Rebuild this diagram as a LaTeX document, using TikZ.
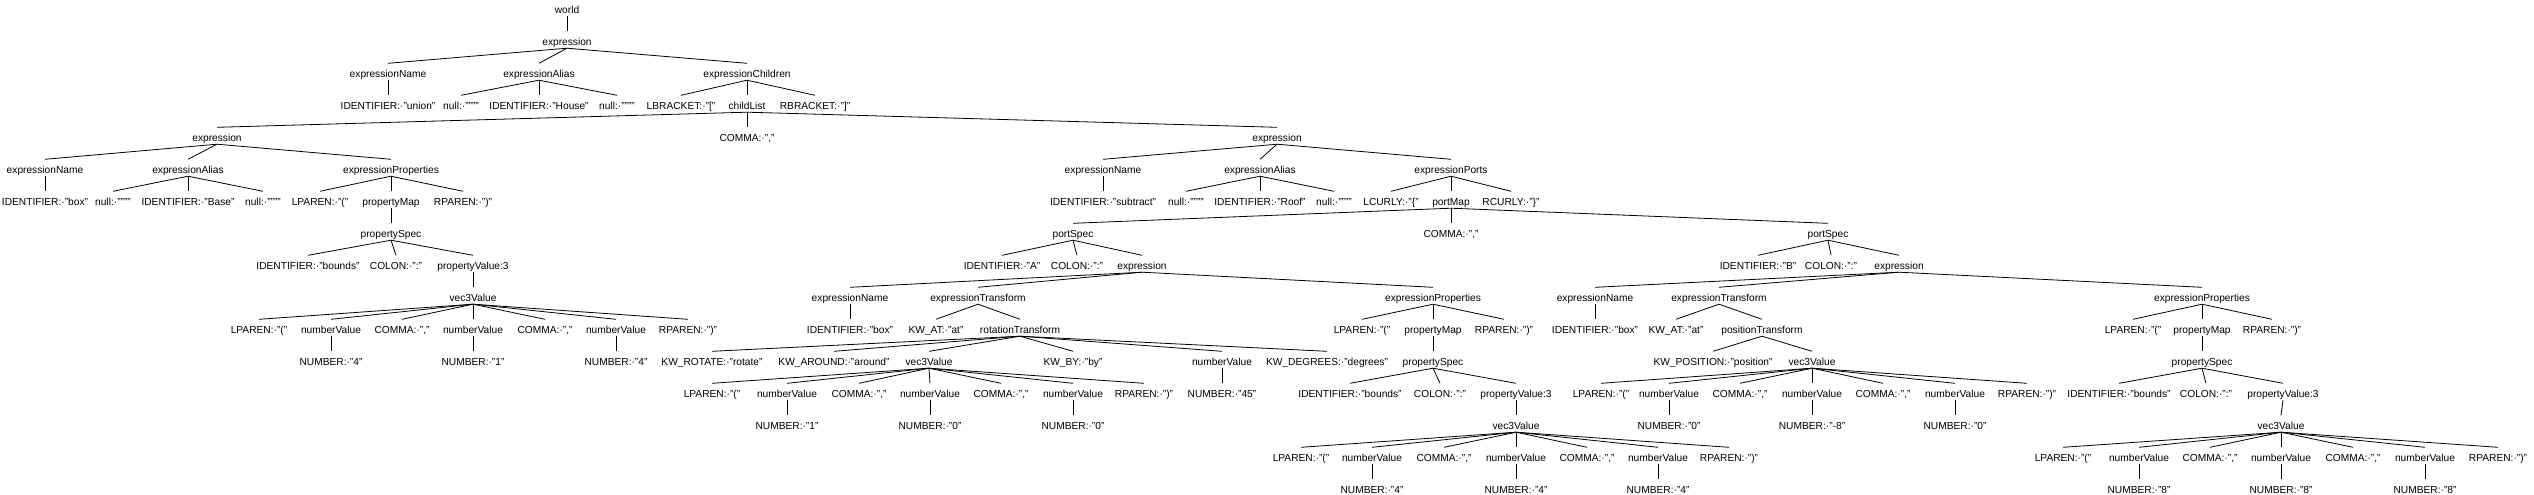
\documentclass[tikz,border=0pt]{standalone}
\usepackage{fontspec}
\setmainfont{Liberation Sans}
\tikzset{
  tn/.style={anchor=base, inner xsep=1pt, inner ysep=0pt, text height=14pt, text depth=2.5pt, font=\fontsize{10.2}{12}\selectfont},
  ed/.style={line width=0.8pt, black}
}
\newcommand\tnode[4]{\node[tn] (#1) at (#2,{13.5+32*#3}) {#4};}
\begin{document}
\begin{tikzpicture}[x=1pt,y=-1pt]
\fill[white] (0,0) rectangle (2534,495);
\useasboundingbox (0,0) rectangle (2534,495);
% top
\tnode{w}{567}{0}{world}
\tnode{e1}{567}{1}{expression}
\tnode{e1n}{388}{2}{expressionName}
\tnode{e1a}{539}{2}{expressionAlias}
\tnode{e1c}{747}{2}{expressionChildren}
\tnode{e1nid}{388}{3}{IDENTIFIER:·"union"}
\tnode{e1an1}{461}{3}{null:·""""}
\tnode{e1aid}{539}{3}{IDENTIFIER:·"House"}
\tnode{e1an2}{617}{3}{null:·""""}
\tnode{lb}{681}{3}{LBRACKET:·"["}
\tnode{cl}{747}{3}{childList}
\tnode{rb}{815}{3}{RBRACKET:·"]"}
\tnode{e2}{217}{4}{expression}
\tnode{cm}{747}{4}{COMMA:·","}
\tnode{e3}{1277}{4}{expression}
% left expression
\tnode{an}{45}{5}{expressionName}
\tnode{aa}{188}{5}{expressionAlias}
\tnode{ap}{391}{5}{expressionProperties}
\tnode{anid}{45}{6}{IDENTIFIER:·"box"}
\tnode{an1}{113}{6}{null:·""""}
\tnode{aaid}{188}{6}{IDENTIFIER:·"Base"}
\tnode{an2}{263}{6}{null:·""""}
\tnode{alp}{320}{6}{LPAREN:·"("}
\tnode{apm}{391}{6}{propertyMap}
\tnode{arp}{463}{6}{RPAREN:·")"}
\tnode{aps}{391}{7}{propertySpec}
\tnode{aid}{308}{8}{IDENTIFIER:·"bounds"}
\tnode{acol}{396}{8}{COLON:·":"}
\tnode{apv}{473}{8}{propertyValue:3}
\tnode{av}{473}{9}{vec3Value}
\tnode{av1}{259}{10}{LPAREN:·"("}
\tnode{av2}{331}{10}{numberValue}
\tnode{av3}{402}{10}{COMMA:·","}
\tnode{av4}{473}{10}{numberValue}
\tnode{av5}{545}{10}{COMMA:·","}
\tnode{av6}{616}{10}{numberValue}
\tnode{av7}{688}{10}{RPAREN:·")"}
\tnode{avn1}{331}{11}{NUMBER:·"4"}
\tnode{avn2}{473}{11}{NUMBER:·"1"}
\tnode{avn3}{616}{11}{NUMBER:·"4"}
% right expression
\tnode{bn}{1103}{5}{expressionName}
\tnode{ba}{1260}{5}{expressionAlias}
\tnode{bp}{1451}{5}{expressionPorts}
\tnode{bnid}{1103}{6}{IDENTIFIER:·"subtract"}
\tnode{bn1}{1186}{6}{null:·""""}
\tnode{baid}{1260}{6}{IDENTIFIER:·"Roof"}
\tnode{bn2}{1334}{6}{null:·""""}
\tnode{blc}{1391}{6}{LCURLY:·"\{"}
\tnode{bpm}{1451}{6}{portMap}
\tnode{brc}{1511}{6}{RCURLY:·"\}"}
\tnode{psA}{1073}{7}{portSpec}
\tnode{bcm}{1451}{7}{COMMA:·","}
\tnode{psB}{1828}{7}{portSpec}
% port A
\tnode{Aid}{1002}{8}{IDENTIFIER:·"A"}
\tnode{Acol}{1077}{8}{COLON:·":"}
\tnode{Ae}{1142}{8}{expression}
\tnode{An}{850}{9}{expressionName}
\tnode{At}{978}{9}{expressionTransform}
\tnode{Ap}{1433}{9}{expressionProperties}
\tnode{Anid}{850}{10}{IDENTIFIER:·"box"}
\tnode{Aat}{936}{10}{KW\_AT:·"at"}
\tnode{Art}{1020}{10}{rotationTransform}
\tnode{Alp}{1362}{10}{LPAREN:·"("}
\tnode{Apm}{1433}{10}{propertyMap}
\tnode{Arp}{1504}{10}{RPAREN:·")"}
\tnode{Akr}{712}{11}{KW\_ROTATE:·"rotate"}
\tnode{Aka}{834}{11}{KW\_AROUND:·"around"}
\tnode{Av}{929}{11}{vec3Value}
\tnode{Aby}{1073}{11}{KW\_BY:·"by"}
\tnode{Anv}{1222}{11}{numberValue}
\tnode{Adeg}{1327}{11}{KW\_DEGREES:·"degrees"}
\tnode{Aps}{1433}{11}{propertySpec}
\tnode{Av1}{712}{12}{LPAREN:·"("}
\tnode{Av2}{787}{12}{numberValue}
\tnode{Av3}{859}{12}{COMMA:·","}
\tnode{Av4}{930}{12}{numberValue}
\tnode{Av5}{1001}{12}{COMMA:·","}
\tnode{Av6}{1073}{12}{numberValue}
\tnode{Av7}{1144}{12}{RPAREN:·")"}
\tnode{Anum}{1222}{12}{NUMBER:·"45"}
\tnode{Aid2}{1350}{12}{IDENTIFIER:·"bounds"}
\tnode{Acol2}{1440}{12}{COLON:·":"}
\tnode{Apv}{1516}{12}{propertyValue:3}
\tnode{Avn1}{787}{13}{NUMBER:·"1"}
\tnode{Avn2}{930}{13}{NUMBER:·"0"}
\tnode{Avn3}{1073}{13}{NUMBER:·"0"}
\tnode{Apvv}{1516}{13}{vec3Value}
\tnode{Aw1}{1301}{14}{LPAREN:·"("}
\tnode{Aw2}{1372}{14}{numberValue}
\tnode{Aw3}{1444}{14}{COMMA:·","}
\tnode{Aw4}{1516}{14}{numberValue}
\tnode{Aw5}{1587}{14}{COMMA:·","}
\tnode{Aw6}{1658}{14}{numberValue}
\tnode{Aw7}{1729}{14}{RPAREN:·")"}
\tnode{Awn1}{1372}{15}{NUMBER:·"4"}
\tnode{Awn2}{1516}{15}{NUMBER:·"4"}
\tnode{Awn3}{1658}{15}{NUMBER:·"4"}
% port B
\tnode{Bid}{1758}{8}{IDENTIFIER:·"B"}
\tnode{Bcol}{1831}{8}{COLON:·":"}
\tnode{Be}{1899}{8}{expression}
\tnode{Bn}{1595}{9}{expressionName}
\tnode{Bt}{1719}{9}{expressionTransform}
\tnode{Bp}{2202}{9}{expressionProperties}
\tnode{Bnid}{1595}{10}{IDENTIFIER:·"box"}
\tnode{Bat}{1676}{10}{KW\_AT:·"at"}
\tnode{Bpt}{1762}{10}{positionTransform}
\tnode{Blp}{2133}{10}{LPAREN:·"("}
\tnode{Bpm}{2202}{10}{propertyMap}
\tnode{Brp}{2272}{10}{RPAREN:·")"}
\tnode{Bkp}{1713}{11}{KW\_POSITION:·"position"}
\tnode{Bv}{1812}{11}{vec3Value}
\tnode{Bps}{2202}{11}{propertySpec}
\tnode{Bv1}{1601}{12}{LPAREN:·"("}
\tnode{Bv2}{1669}{12}{numberValue}
\tnode{Bv3}{1740}{12}{COMMA:·","}
\tnode{Bv4}{1812}{12}{numberValue}
\tnode{Bv5}{1883}{12}{COMMA:·","}
\tnode{Bv6}{1955}{12}{numberValue}
\tnode{Bv7}{2027}{12}{RPAREN:·")"}
\tnode{Bid2}{2119}{12}{IDENTIFIER:·"bounds"}
\tnode{Bcol2}{2206}{12}{COLON:·":"}
\tnode{Bpv}{2283}{12}{propertyValue:3}
\tnode{Bvn1}{1669}{13}{NUMBER:·"0"}
\tnode{Bvn2}{1812}{13}{NUMBER:·"-8"}
\tnode{Bvn3}{1955}{13}{NUMBER:·"0"}
\tnode{Bpvv}{2281}{13}{vec3Value}
\tnode{Bw1}{2063}{14}{LPAREN:·"("}
\tnode{Bw2}{2139}{14}{numberValue}
\tnode{Bw3}{2210}{14}{COMMA:·","}
\tnode{Bw4}{2281}{14}{numberValue}
\tnode{Bw5}{2353}{14}{COMMA:·","}
\tnode{Bw6}{2425}{14}{numberValue}
\tnode{Bw7}{2498}{14}{RPAREN:·")"}
\tnode{Bwn1}{2139}{15}{NUMBER:·"8"}
\tnode{Bwn2}{2281}{15}{NUMBER:·"8"}
\tnode{Bwn3}{2425}{15}{NUMBER:·"8"}
% edges
\foreach \p/\c in {w/e1, e1/e1n, e1/e1a, e1/e1c, e1n/e1nid, e1a/e1an1, e1a/e1aid, e1a/e1an2,
  e1c/lb, e1c/cl, e1c/rb, cl/e2, cl/cm, cl/e3,
  e2/an, e2/aa, e2/ap, an/anid, aa/an1, aa/aaid, aa/an2, ap/alp, ap/apm, ap/arp,
  apm/aps, aps/aid, aps/acol, aps/apv, apv/av,
  av/av1, av/av2, av/av3, av/av4, av/av5, av/av6, av/av7, av2/avn1, av4/avn2, av6/avn3,
  e3/bn, e3/ba, e3/bp, bn/bnid, ba/bn1, ba/baid, ba/bn2, bp/blc, bp/bpm, bp/brc,
  bpm/psA, bpm/bcm, bpm/psB,
  psA/Aid, psA/Acol, psA/Ae, Ae/An, Ae/At, Ae/Ap, An/Anid, At/Aat, At/Art,
  Ap/Alp, Ap/Apm, Ap/Arp, Art/Akr, Art/Aka, Art/Av, Art/Aby, Art/Anv, Art/Adeg,
  Apm/Aps, Av/Av1, Av/Av2, Av/Av3, Av/Av4, Av/Av5, Av/Av6, Av/Av7, Anv/Anum,
  Aps/Aid2, Aps/Acol2, Aps/Apv, Av2/Avn1, Av4/Avn2, Av6/Avn3, Apv/Apvv,
  Apvv/Aw1, Apvv/Aw2, Apvv/Aw3, Apvv/Aw4, Apvv/Aw5, Apvv/Aw6, Apvv/Aw7,
  Aw2/Awn1, Aw4/Awn2, Aw6/Awn3,
  psB/Bid, psB/Bcol, psB/Be, Be/Bn, Be/Bt, Be/Bp, Bn/Bnid, Bt/Bat, Bt/Bpt,
  Bp/Blp, Bp/Bpm, Bp/Brp, Bpt/Bkp, Bpt/Bv, Bpm/Bps,
  Bv/Bv1, Bv/Bv2, Bv/Bv3, Bv/Bv4, Bv/Bv5, Bv/Bv6, Bv/Bv7,
  Bps/Bid2, Bps/Bcol2, Bps/Bpv, Bv2/Bvn1, Bv4/Bvn2, Bv6/Bvn3, Bpv/Bpvv,
  Bpvv/Bw1, Bpvv/Bw2, Bpvv/Bw3, Bpvv/Bw4, Bpvv/Bw5, Bpvv/Bw6, Bpvv/Bw7,
  Bw2/Bwn1, Bw4/Bwn2, Bw6/Bwn3}
  \draw[ed] (\p.south) -- (\c.north);
\end{tikzpicture}
\end{document}
